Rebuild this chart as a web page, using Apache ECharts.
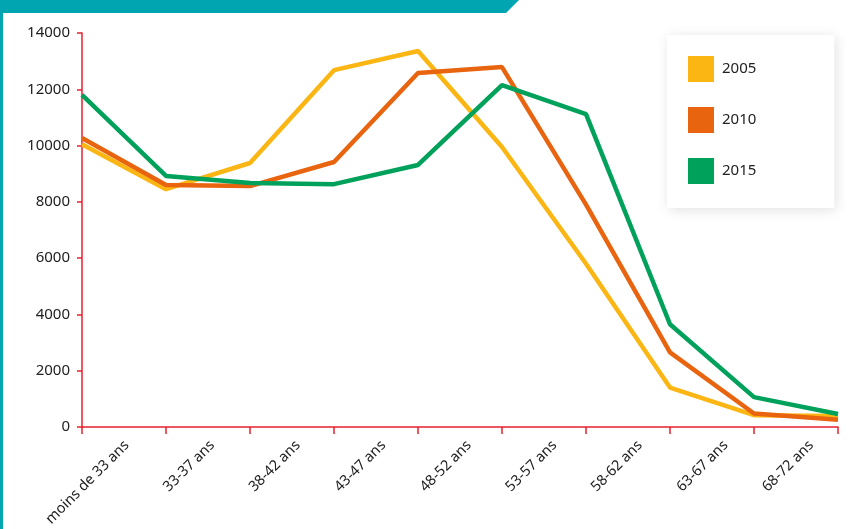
<!DOCTYPE html>
<html>
<head>
<meta charset="utf-8">
<script src="https://cdn.jsdelivr.net/npm/echarts@6/dist/echarts.min.js"></script>
<style>
  html, body { margin: 0; padding: 0; background: #fff; }
  #main { width: 855px; height: 529px; }
</style>
</head>
<body>
<div id="main"></div>
<script>
// tranches d'âge (9 libellés placés entre les 10 points)
var ageLabels = ['moins de 33 ans', '33-37 ans', '38-42 ans', '43-47 ans', '48-52 ans',
  '53-57 ans', '58-62 ans', '63-67 ans', '68-72 ans'];
var pointCats = ['p1', 'p2', 'p3', 'p4', 'p5', 'p6', 'p7', 'p8', 'p9', 'p10'];
var yTicks = [0, 2000, 4000, 6000, 8000, 10000, 12000, 14000];

var years = ['2005', '2010', '2015'];
var v2005 = [10050, 8450, 9380, 12680, 13360, 9950, 5800, 1400, 420, 390];
var v2010 = [10270, 8600, 8560, 9415, 12580, 12790, 7900, 2650, 480, 260];
var v2015 = [11800, 8920, 8670, 8630, 9310, 12150, 11120, 3650, 1060, 460];
var colors = ['#fcb614', '#e9640f', '#00a15a'];

var red = '#e8202f';
var teal = '#00a5b1';

var myChart = echarts.init(document.getElementById('main'));

function mkSeries(name, data, color) {
  return {
    name: name,
    type: 'line',
    xAxisIndex: 0,
    yAxisIndex: 0,
    data: data,
    symbol: 'none',
    lineStyle: { width: 4.5, color: color },
    itemStyle: { color: color }
  };
}

var option = {
  animation: false,
  textStyle: { fontFamily: 'Noto Sans' },
  graphic: [
    { type: 'rect', left: 0, top: 0, shape: { width: 3, height: 529 }, style: { fill: teal } },
    { type: 'polygon', shape: { points: [[0, 0], [519, 0], [506, 13], [0, 13]] }, style: { fill: teal } }
  ],
  legend: {
    data: years,
    orient: 'vertical',
    left: 667,
    top: 35,
    padding: [21, 78, 24, 21],
    itemWidth: 26,
    itemHeight: 26,
    itemGap: 25,
    icon: 'rect',
    backgroundColor: '#fff',
    shadowBlur: 12,
    shadowColor: 'rgba(0,0,0,0.12)',
    shadowOffsetX: 2,
    shadowOffsetY: 2,
    textStyle: { fontSize: 15, color: '#222', padding: [0, 0, 0, 3] }
  },
  grid: [
    { left: 82, right: 17, top: 33, bottom: 102 },
    { left: 84, right: 1, top: 33, bottom: 102 }
  ],
  xAxis: [
    {
      type: 'category',
      gridIndex: 0,
      data: pointCats,
      boundaryGap: false,
      axisLine: { lineStyle: { color: red, width: 1.5 } },
      axisTick: { show: true, length: 7, lineStyle: { color: red, width: 1.5 } },
      axisLabel: { show: false }
    },
    {
      type: 'category',
      gridIndex: 1,
      data: ageLabels,
      boundaryGap: true,
      axisLine: { show: false },
      axisTick: { show: false },
      axisLabel: { rotate: 45, margin: 16, fontSize: 14.5, color: '#222', interval: 0 }
    }
  ],
  yAxis: [
    {
      type: 'value',
      gridIndex: 0,
      min: yTicks[0],
      max: yTicks[yTicks.length - 1],
      interval: 2000,
      splitLine: { show: false },
      axisLine: { show: true, lineStyle: { color: red, width: 1.5 } },
      axisTick: { show: true, length: 5, lineStyle: { color: red, width: 1.5 } },
      axisLabel: { fontSize: 15, color: '#222', margin: 12, formatter: function (v) { return String(v); } }
    },
    {
      type: 'value',
      gridIndex: 1,
      show: false,
      min: 0,
      max: 14000,
      splitLine: { show: false }
    }
  ],
  series: [
    mkSeries(years[0], v2005, colors[0]),
    mkSeries(years[1], v2010, colors[1]),
    mkSeries(years[2], v2015, colors[2])
  ]
};

myChart.setOption(option);
</script>
</body>
</html>
